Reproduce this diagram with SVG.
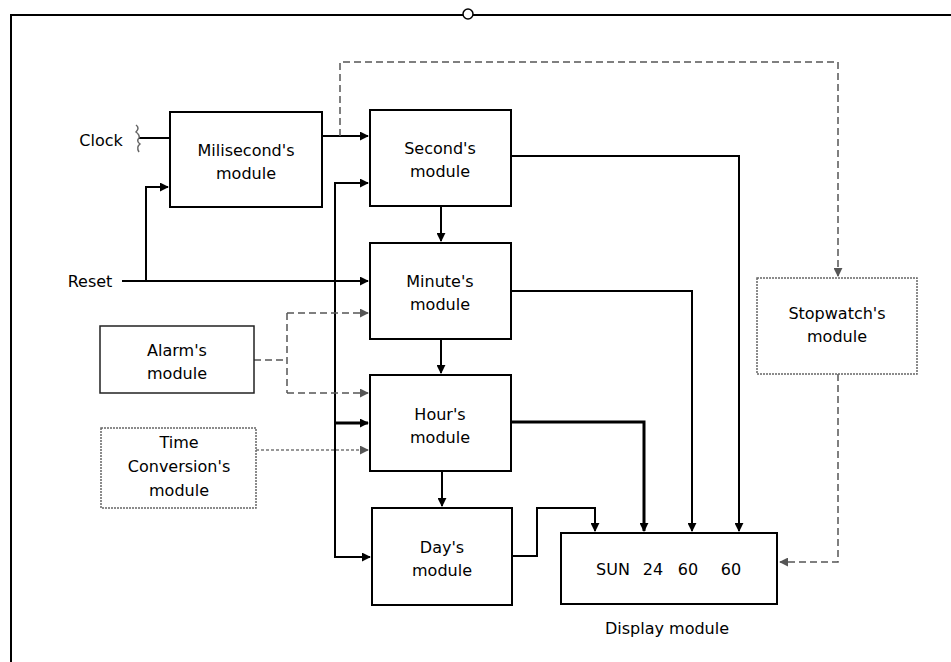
<svg xmlns="http://www.w3.org/2000/svg" width="951" height="662" viewBox="0 0 951 662">
<style>
.box{fill:#fff;stroke:#000;stroke-width:2}
.thin{fill:#fff;stroke:#222;stroke-width:1.5}
.grey{fill:#fff;stroke:#666;stroke-width:1.5;stroke-dasharray:2 1}
.t{font-family:"DejaVu Sans","Liberation Sans",sans-serif;font-size:16px;fill:#000;text-anchor:middle}
.w{fill:none;stroke:#000;stroke-width:2}
.wk{fill:none;stroke:#000;stroke-width:3}
.d{fill:none;stroke:#555;stroke-width:1.5;stroke-dasharray:7 4}
.dt{fill:none;stroke:#777;stroke-width:1.5;stroke-dasharray:3 2}
</style>
<defs>
<marker id="a" viewBox="0 0 10 10" refX="9" refY="5" markerWidth="9" markerHeight="9" markerUnits="userSpaceOnUse" orient="auto"><path d="M0,0 L10,5 L0,10 z" fill="#000"/></marker>
<marker id="g" viewBox="0 0 10 10" refX="9" refY="5" markerWidth="9" markerHeight="9" markerUnits="userSpaceOnUse" orient="auto"><path d="M0,0 L10,5 L0,10 z" fill="#555"/></marker>
</defs>
<rect width="951" height="662" fill="#fff"/>
<g id="frame">
<path d="M11,662 V15 H951" fill="none" stroke="#000" stroke-width="2"/>
<circle cx="468" cy="14" r="5" fill="#fff" stroke="#000" stroke-width="1.5"/>
</g>
<g id="connectors">
<path class="w" d="M139,138 H170"/>
<path d="M136,125 q4,3 0,7 q4,3 3,6 q-3,3 1,6 q-4,3 -1,8" fill="none" stroke="#666" stroke-width="1.5"/>
<path class="w" d="M122,281 H368" marker-end="url(#a)"/>
<path class="w" d="M146,281 V187 H168" marker-end="url(#a)"/>
<path class="w" d="M322,136 H368" marker-end="url(#a)"/>
<path class="d" d="M340,136 V62 H838 V276" marker-end="url(#g)"/>
<path class="w" d="M368,183 H335 V557 H370" marker-end="url(#a)"/>
<path class="w" d="M335,183 H368" marker-end="url(#a)"/>
<path class="wk" d="M335,423 H368" marker-end="url(#a)"/>
<path class="w" d="M441,206 V241" marker-end="url(#a)"/>
<path class="w" d="M441,339 V373" marker-end="url(#a)"/>
<path class="w" d="M442,471 V506" marker-end="url(#a)"/>
<path class="w" d="M511,156 H739 V531" marker-end="url(#a)"/>
<path class="w" d="M511,291 H692 V531" marker-end="url(#a)"/>
<path class="wk" d="M511,422 H644 V531" marker-end="url(#a)"/>
<path class="w" d="M512,556 H537 V508 H595 V531" marker-end="url(#a)"/>
<path class="d" d="M838,374 V562 H780" marker-end="url(#g)"/>
<path class="d" d="M254,360 H287"/>
<path class="d" d="M287,313 V393"/>
<path class="d" d="M287,313 H368" marker-end="url(#g)"/>
<path class="d" d="M287,393 H368" marker-end="url(#g)"/>
<path class="dt" d="M256,450 H368" marker-end="url(#g)"/>
</g>
<g id="clock"><text class="t" x="101" y="146">Clock</text></g>
<g id="reset"><text class="t" x="90" y="287">Reset</text></g>
<g id="milisecond">
<rect class="box" x="170" y="112" width="152" height="95"/>
<text class="t" x="246" y="156">Milisecond's</text>
<text class="t" x="246" y="179">module</text>
</g>
<g id="second">
<rect class="box" x="370" y="110" width="141" height="96"/>
<text class="t" x="440" y="154">Second's</text>
<text class="t" x="440" y="177">module</text>
</g>
<g id="minute">
<rect class="box" x="370" y="243" width="141" height="96"/>
<text class="t" x="440" y="287">Minute's</text>
<text class="t" x="440" y="310">module</text>
</g>
<g id="hour">
<rect class="box" x="370" y="375" width="141" height="96" stroke-width="3"/>
<text class="t" x="440" y="420">Hour's</text>
<text class="t" x="440" y="443">module</text>
</g>
<g id="day">
<rect class="box" x="372" y="508" width="140" height="97"/>
<text class="t" x="442" y="553">Day's</text>
<text class="t" x="442" y="576">module</text>
</g>
<g id="alarm">
<rect class="thin" x="100" y="326" width="154" height="67"/>
<text class="t" x="177" y="356">Alarm's</text>
<text class="t" x="177" y="379">module</text>
</g>
<g id="timeconversion">
<rect class="grey" x="101" y="428" width="155" height="80"/>
<text class="t" x="179" y="448">Time</text>
<text class="t" x="179" y="472">Conversion's</text>
<text class="t" x="179" y="496">module</text>
</g>
<g id="stopwatch">
<rect class="grey" x="757" y="278" width="160" height="96" stroke="#333" stroke-width="2.5"/>
<text class="t" x="837" y="319">Stopwatch's</text>
<text class="t" x="837" y="342">module</text>
</g>
<g id="display">
<rect class="box" x="561" y="533" width="216" height="71"/>
<text class="t" x="613" y="575">SUN</text>
<text class="t" x="653" y="575">24</text>
<text class="t" x="688" y="575">60</text>
<text class="t" x="731" y="575">60</text>
<text class="t" x="667" y="634">Display module</text>
</g>
</svg>
